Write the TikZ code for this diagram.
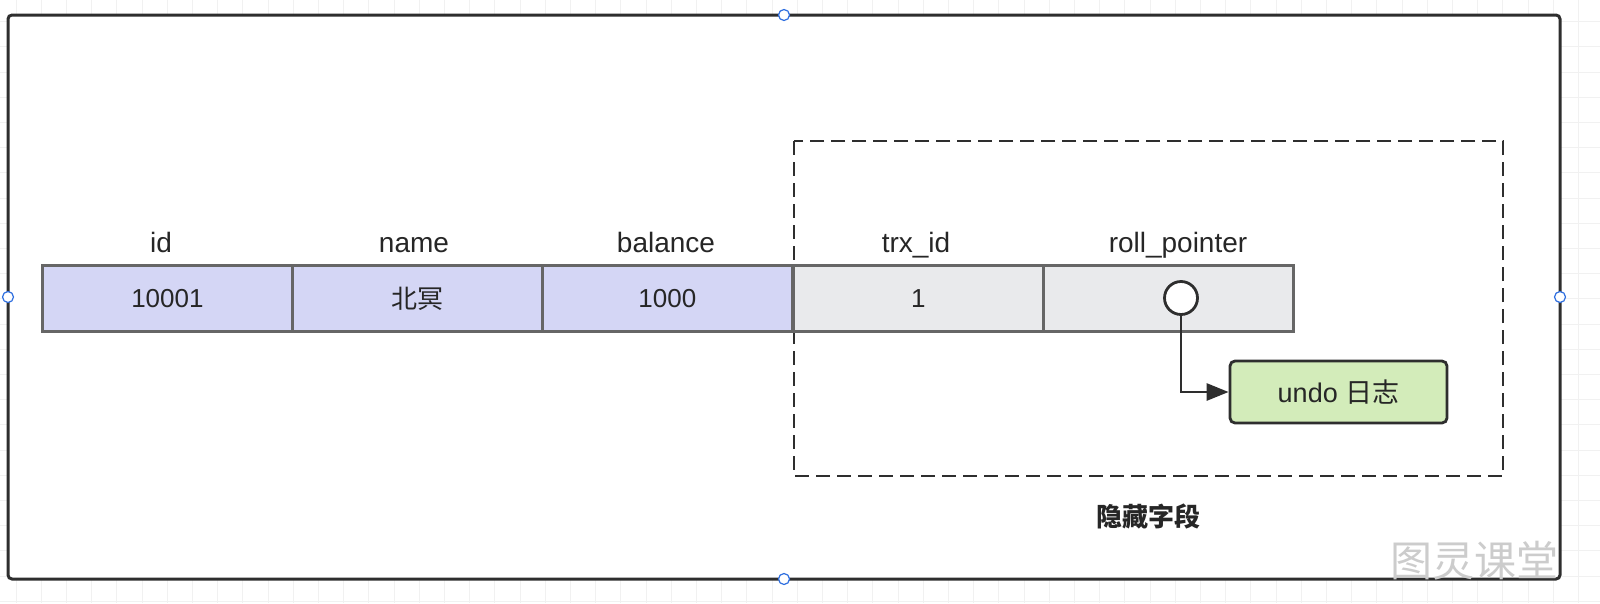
\documentclass[tikz,border=0pt]{standalone}
\usepackage{fontspec}
\setmainfont{Liberation Sans}
\newfontfamily\cjk{Noto Sans CJK SC}
\usetikzlibrary{arrows.meta}
\definecolor{frame}{HTML}{2E2E2E}
\definecolor{cellline}{HTML}{666666}
\definecolor{lav}{HTML}{D4D6F5}
\definecolor{graycell}{HTML}{E9EAEC}
\definecolor{undogreen}{HTML}{D3ECBA}
\definecolor{handle}{HTML}{2F6FE0}
\definecolor{gridc}{HTML}{F1F1F1}
\definecolor{txt}{HTML}{262626}
\tikzset{
  x=1pt,y=-1pt,
  cellbox/.style={draw=cellline,line width=2.8pt,minimum width=250pt,minimum height=66pt,inner sep=0pt,anchor=north west,font=\fontsize{26}{30}\selectfont,text=txt},
  lavcell/.style={cellbox,fill=lav},
  graybox/.style={cellbox,fill=graycell},
  header/.style={font=\fontsize{28}{32}\selectfont,text=txt,anchor=base,inner sep=0pt},
  handlept/.style={circle,draw=handle,fill=white,line width=1.2pt,minimum size=11pt,inner sep=0pt},
}
\begin{document}
\begin{tikzpicture}
\useasboundingbox (0,0) rectangle (1600,603);
% faint grid
\foreach \i in {0,...,63} {\draw[gridc,line width=0.8pt] ({16+25.2*\i},0) -- ({16+25.2*\i},603);}
\foreach \j in {0,...,24} {\draw[gridc,line width=0.8pt] (0,{-3.7+25.2*\j}) -- (1600,{-3.7+25.2*\j});}
% outer frame
\draw[frame,fill=white,line width=3pt,rounded corners=4pt] (8,15) rectangle (1560,579);
\node[handlept] (h1) at (784,15) {};
\node[handlept] (h2) at (784,579) {};
\node[handlept] (h3) at (8,297) {};
\node[handlept] (h4) at (1560,297) {};
% dashed box
\draw[frame,line width=2.5pt,dash pattern=on 14pt off 7pt] (794,141) rectangle (1503,476);
% cells
\node[lavcell] (c1) at (41,264) {10001};
\node[lavcell] (c2) at (291,264) {\cjk 北冥};
\node[lavcell] (c3) at (541,264) {1000};
\node[graybox] (c4) at (792,264) {1};
\node[graybox] (c5) at (1042,264) {};
% headers
\node[header] (t1) at (161,252) {id};
\node[header] (t2) at (414,252) {name};
\node[header] (t3) at (666,252) {balance};
\node[header] (t4) at (916,252) {trx\_id};
\node[header] (t5) at (1178,252) {roll\_pointer};
% pointer
\node[circle,draw=frame,fill=white,line width=2.8pt,minimum size=33pt,inner sep=0pt] (ptr) at (1181,298) {};
\node[draw=frame,fill=undogreen,line width=2.8pt,rounded corners=5pt,minimum width=217pt,minimum height=62pt,inner sep=0pt,font=\fontsize{27}{30}\selectfont,text=txt] (undo) at (1338.5,392) {undo {\cjk 日志}};
\draw[frame,line width=2.8pt,-{Triangle[length=22pt,width=17pt]}] (ptr.south) |- (undo.west);
% label
\node[font=\cjk\fontsize{26}{30}\selectfont\bfseries,text=txt] (hid) at (1148,516) {隐藏字段};
% watermark
\node[font=\cjk\fontsize{42}{46}\selectfont,text=black!20] (wm) at (1474,561) {图灵课堂};
\end{tikzpicture}
\end{document}
